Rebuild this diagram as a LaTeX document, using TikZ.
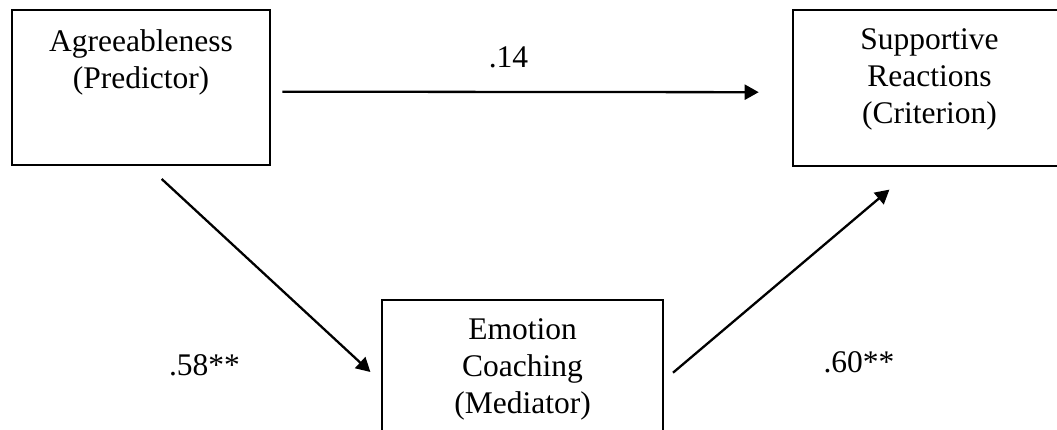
\documentclass[tikz,border=0pt]{standalone}
\usepackage{fontspec}
\setmainfont{Liberation Serif}
\usetikzlibrary{arrows.meta}
\begin{document}
\begin{tikzpicture}[x=1pt,y=1pt,
  box/.style={draw=black, line width=2.6pt, rectangle, inner sep=0pt},
  lbl/.style={font=\fontsize{31.5}{37}\selectfont, align=center, inner sep=0pt, anchor=north},
  num/.style={font=\fontsize{31.5}{37}\selectfont, inner sep=0pt, anchor=base},
  arr/.style={line width=2.3pt, -{Triangle[length=14pt,width=15pt]}}]
\useasboundingbox (0,0) rectangle (1057,-430);
% boxes
\node[box, minimum width=258pt, minimum height=155pt] (A) at (141,-87.5) {};
\node[box, minimum width=273pt, minimum height=156pt] (S) at (929.5,-88) {};
\node[box, minimum width=281pt, minimum height=155pt] (E) at (522.5,-377.5) {};
% texts
\node[lbl] (At) at (141,-29.5) {Agreeableness\\(Predictor)};
\node[lbl] (St) at (929.5,-28.5) {Supportive\\Reactions\\(Criterion)};
\node[lbl] (Et) at (522.5,-318.5) {Emotion\\Coaching\\(Mediator)};
% arrows
\draw[arr] ([shift={(11pt,-4.2pt)}]A.east) -- ([shift={(-33pt,-4.2pt)}]S.west);
\draw[arr] ([shift={(20.7pt,-12.7pt)}]A.south) -- ([shift={(-10.3pt,-73.3pt)}]E.north west);
\draw[arr] ([shift={(8.7pt,-74pt)}]E.north east) -- ([shift={(97.7pt,-22.3pt)}]S.south west);
% labels
\node[num] (l14) at (508.5,-68) {.14};
\node[num] (l58) at (204.5,-375) {.58**};
\node[num] (l60) at (859,-372.7) {.60**};
\end{tikzpicture}
\end{document}
